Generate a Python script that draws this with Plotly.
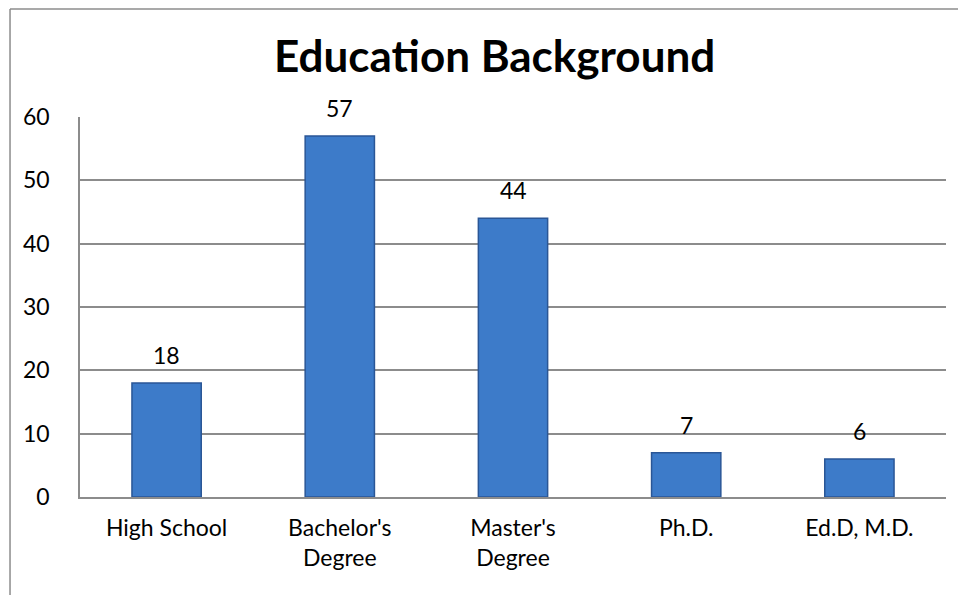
import plotly.graph_objects as go

categories = ["High School", "Bachelor's<br>Degree", "Master's<br>Degree", "Ph.D.", "Ed.D, M.D."]
values = [18, 57, 44, 7, 6]
y_ticks = [0, 10, 20, 30, 40, 50, 60]

FONT = "Lato, 'Open Sans', sans-serif"
GRID = "#8c8c8c"

fig = go.Figure()
fig.add_trace(go.Bar(
    x=categories, y=values,
    width=0.40,
    marker=dict(color="#3d7bc9", line=dict(color="#2a5696", width=1.5)),
    hoverinfo="skip",
))

for c, v in zip(categories, values):
    fig.add_annotation(x=c, y=v, text=str(v), showarrow=False,
                       yanchor="bottom", yshift=12,
                       font=dict(family=FONT, size=23, color="#000000"))

fig.update_layout(
    width=958, height=587,
    margin=dict(l=72, r=20, t=109, b=98),
    paper_bgcolor="white", plot_bgcolor="white",
    showlegend=False,
    title=dict(text="<b>Education Background</b>", x=0.508, xanchor="center",
               y=0.9165, yanchor="middle",
               font=dict(family=FONT, size=44, color="#000000")),
    xaxis=dict(
        showgrid=False, showline=True, linecolor=GRID, linewidth=1.5,
        ticks="", tickfont=dict(family=FONT, size=23, color="#000000"),
        ticklabelstandoff=10,
    ),
    yaxis=dict(
        range=[0, 60], tickvals=y_ticks, showgrid=True, gridcolor=GRID, gridwidth=1.5,
        showline=True, linecolor=GRID, linewidth=1.5, zeroline=False,
        ticks="", tickfont=dict(family=FONT, size=23, color="#000000"),
        ticklabelstandoff=24,
    ),
    shapes=[
        dict(type="line", xref="paper", yref="paper", x0=-0.0808, x1=-0.0808,
             y0=1.284, y1=-0.30, line=dict(color="#8c8c8c", width=1.5)),
        dict(type="line", xref="paper", yref="paper", x0=-0.0808, x1=1.05,
             y0=1.284, y1=1.284, line=dict(color="#8c8c8c", width=1.5)),
    ],
)

fig.write_html("out.html")
